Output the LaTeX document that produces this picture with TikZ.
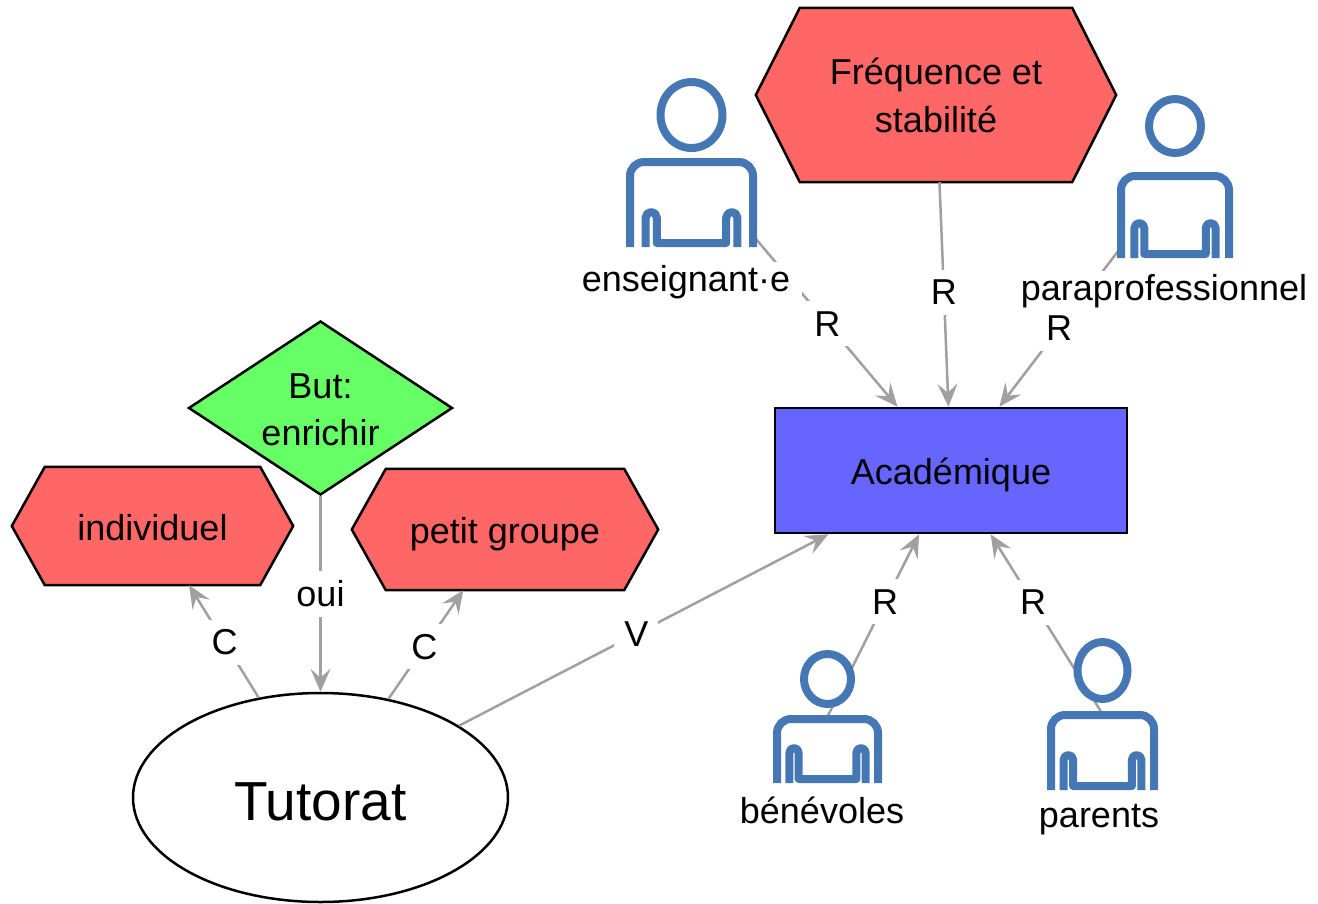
\documentclass[tikz,border=0pt]{standalone}
\usepackage{fontspec}
\setmainfont{Liberation Sans}
\usetikzlibrary{shapes.geometric,arrows.meta}
\pgfdeclarelayer{bg}
\pgfsetlayers{bg,main}
\definecolor{hexred}{HTML}{FF6666}
\definecolor{diagreen}{HTML}{66FF66}
\definecolor{acadblue}{HTML}{6666FF}
\definecolor{iconblue}{HTML}{4677B5}
\definecolor{edgegray}{HTML}{A0A0A0}
\tikzset{
  txt/.style={font=\fontsize{36}{48}\selectfont, inner sep=0pt},
  oneline/.style={text height=28pt, text depth=0pt},
  hexbox/.style={txt, rectangle, align=center},
  hexdraw/.style={draw=black, fill=hexred, line width=2.5pt, line join=miter},
  acadbox/.style={txt, oneline, rectangle, draw=black, fill=acadblue, line width=2.5pt, minimum width=352pt, minimum height=125pt},
  diamondbox/.style={diamond, draw=black, fill=diagreen, line width=2.5pt, inner sep=0pt, minimum width=264pt, minimum height=174pt},
  tutbox/.style={ellipse, draw=black, fill=white, line width=2.5pt, inner sep=0pt, minimum width=375pt, minimum height=209pt, font=\fontsize{55}{66}\selectfont, text height=45pt, text depth=0pt},
  edgeline/.style={draw=edgegray, line width=2.5pt, -{Stealth[length=23pt, width=20pt, inset=9pt]}},
  elabel/.style={txt, fill=white, inner sep=10pt},
  iconline/.style={draw=iconblue, line width=8pt, line cap=butt, line join=round},
  personlabel/.style={txt, fill=white, inner xsep=12pt, inner ysep=3pt}
}
% #1 cx, #2 head top, #3 head bottom, #4 head width, #5 body top, #6 body bottom, #7 body width
\newcommand\personicon[7]{%
  \pgfmathsetmacro\pL{#1-#7/2+4}%
  \pgfmathsetmacro\pR{#1+#7/2-4}%
  \pgfmathsetmacro\aA{#1-#7/2+0.15*#7}%
  \pgfmathsetmacro\aB{#1-#7/2+0.235*#7}%
  \pgfmathsetmacro\aC{#1+#7/2-0.235*#7}%
  \pgfmathsetmacro\aD{#1+#7/2-0.15*#7}%
  \pgfmathsetmacro\ar{(\aB-\aA)/2}%
  \pgfmathsetmacro\atp{#6-35+\ar}%
  \pgfmathsetmacro\hy{(#2+#3)/2}%
  \pgfmathsetmacro\hrx{#4/2-4}%
  \pgfmathsetmacro\hry{(#3-#2)/2-4}%
  \pgfmathsetmacro\bt{#5+4}%
  \pgfmathsetmacro\bl{#6-4}%
  \fill[white] (\pL,\bt) rectangle (\pR,#6);
  \fill[white] (#1,\hy) ellipse[x radius=\hrx, y radius=\hry];
  \draw[iconline] (#1,\hy) ellipse[x radius=\hrx, y radius=\hry];
  \draw[iconline] (\pL,#6) -- (\pL,\bt+14) arc[start angle=180, end angle=270, radius=14]
     -- (\pR-14,\bt) arc[start angle=270, end angle=360, radius=14] -- (\pR,#6);
  \draw[iconline] (\aA,#6) -- (\aA,\atp) arc[start angle=180, end angle=360, radius=\ar]
     -- (\aB,\bl) -- (\aC,\bl) -- (\aC,\atp) arc[start angle=180, end angle=360, radius=\ar] -- (\aD,#6);
}
\begin{document}
\begin{tikzpicture}[x=1pt, y=-1pt]
\useasboundingbox (0,0) rectangle (1318,903);

% nodes
\node[hexbox, minimum width=272pt, minimum height=174pt] (freq) at (936,95) {Fréquence et\\stabilité};
\node[acadbox] (acad) at (951,470.5) {Académique};
\node[hexbox, oneline, minimum width=215pt, minimum height=118pt] (indiv) at (152.5,526) {individuel};
\node[hexbox, oneline, minimum width=238pt, minimum height=121pt] (petit) at (505,529.5) {petit groupe};
\node[diamondbox, label={[txt, align=center, font=\fontsize{36}{47}\selectfont, yshift=-2pt]center:{But:\\enrichir}}] (but) at (320.5,408) {};
\node[tutbox] (tut) at (320.5,797.5) {Tutorat};

% hexagon outlines
\begin{pgfonlayer}{bg}
\draw[hexdraw] (freq.north west) -- (freq.north east) -- ([xshift=44pt]freq.east) -- (freq.south east) -- (freq.south west) -- ([xshift=-44pt]freq.west) -- cycle;
\draw[hexdraw] (indiv.north west) -- (indiv.north east) -- ([xshift=33pt]indiv.east) -- (indiv.south east) -- (indiv.south west) -- ([xshift=-33pt]indiv.west) -- cycle;
\draw[hexdraw] (petit.north west) -- (petit.north east) -- ([xshift=34pt]petit.east) -- (petit.south east) -- (petit.south west) -- ([xshift=-34pt]petit.west) -- cycle;
\end{pgfonlayer}

% icon centres
\coordinate (ensc) at (691.5,162.5);
\coordinate (parac) at (1175,176.5);
\coordinate (benc) at (827.5,716.5);
\coordinate (parc) at (1102.5,714);

% connectors
\draw[edgeline] (ensc) -- node[elabel, pos=0.66] {R} (acad);
\draw[edgeline] (freq) -- node[elabel, pos=0.49] {R} (acad);
\draw[edgeline] (parac) -- node[elabel, pos=0.66] {R} (acad);
\draw[edgeline] (benc) -- node[elabel, pos=0.63] {R} (acad);
\draw[edgeline] (parc) -- node[elabel, pos=0.62] {R} (acad);
\draw[edgeline] (tut) -- node[elabel, pos=0.48] {V} (acad);
\draw[edgeline] (tut) -- node[elabel, pos=0.49] {C} (indiv);
\draw[edgeline] (tut) -- node[elabel, pos=0.48] {C} (petit);
\draw[edgeline] (but) -- node[elabel, pos=0.5] {oui} (tut);

% person icons
\personicon{691.5}{78}{152}{70}{158}{247}{131}
\personicon{1175}{95}{157}{60}{172}{258}{116}
\personicon{827.5}{650}{708}{55}{715}{783}{109}
\personicon{1102.5}{638}{703}{58}{711}{790}{111}

\node[personlabel] (ens) at (686,282) {enseignant·e};
\node[personlabel] (para) at (1164,291) {paraprofessionnel};
\node[personlabel] (ben) at (822,810) {bénévoles};
\node[personlabel] (par) at (1099,820) {parents};
\end{tikzpicture}
\end{document}
